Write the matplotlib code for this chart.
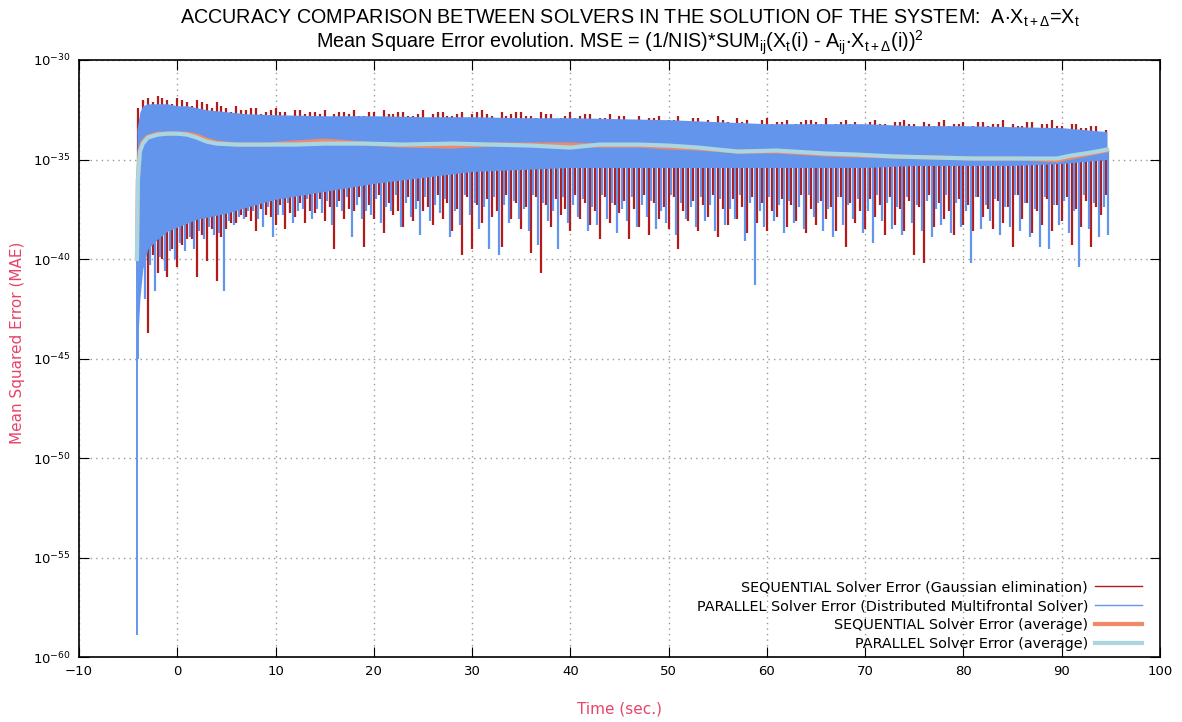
import matplotlib
matplotlib.use("Agg")
import matplotlib.pyplot as plt
import numpy as np

plt.rcParams['mathtext.fontset'] = 'custom'
plt.rcParams['mathtext.rm'] = 'Liberation Sans'
plt.rcParams['mathtext.it'] = 'Liberation Sans:italic'
plt.rcParams['mathtext.default'] = 'regular'

# error values are stored as log10 exponents
# sequential solver (Gaussian elimination): two interleaved sets of spikes
seq_t = np.arange(-4, 95, 1.0)
seq_peak = [-32.4, -31.9, -31.8, -32.0, -31.9, -32.1, -32.0, -32.2, -32.1, -32.4,
            -32.3, -32.5, -32.4, -32.6, -32.4, -32.6, -32.5, -32.7, -32.6, -32.5,
            -32.7, -32.6, -32.5, -32.8, -32.6, -32.5, -32.7, -32.6, -32.8, -32.5,
            -32.7, -32.6, -32.8, -32.6, -32.7, -32.5, -32.8, -32.6, -32.7, -32.6,
            -32.8, -32.6, -32.7, -32.9, -32.6, -32.8, -32.7, -32.9, -32.7, -32.8,
            -33.0, -32.8, -32.9, -32.8, -33.0, -32.8, -33.1, -32.9, -33.0, -32.8,
            -33.1, -32.9, -33.0, -33.2, -32.9, -33.1, -33.0, -33.2, -33.0, -33.1,
            -32.9, -33.2, -33.0, -33.1, -33.3, -33.0, -33.2, -33.1, -33.0, -33.2,
            -33.1, -33.3, -33.0, -33.2, -33.1, -33.3, -33.1, -33.2, -33.0, -33.2,
            -33.3, -33.1, -33.2, -33.0, -33.3, -33.2, -33.4, -33.3, -33.6]
seq_dip = [-41.0, -43.7, -40.7, -40.9, -40.4, -39.0, -40.9, -40.1, -41.1, -38.5,
           -38.2, -37.9, -38.6, -37.8, -38.3, -38.5, -37.9, -38.2, -37.7, -38.1,
           -39.5, -38.0, -37.6, -39.4, -38.0, -38.7, -37.8, -38.4, -38.1, -37.6,
           -38.3, -38.0, -38.6, -39.8, -39.5, -38.2, -37.9, -39.4, -38.0, -38.5,
           -39.7, -40.7, -38.4, -37.8, -38.6, -38.0, -38.3, -39.0, -38.2, -37.7,
           -39.0, -38.4, -38.8, -38.0, -38.5, -39.5, -38.1, -38.6, -37.9, -38.9,
           -38.3, -38.0, -38.7, -38.2, -38.6, -37.9, -38.4, -38.1, -38.7, -38.3,
           -38.0, -38.6, -39.4, -38.2, -38.5, -37.9, -38.8, -38.3, -38.6, -39.8,
           -40.2, -38.4, -38.0, -38.8, -38.3, -38.6, -37.9, -38.5, -38.2, -39.4,
           -38.0, -38.7, -38.3, -38.6, -38.1, -39.3, -38.4, -39.4, -37.8]
seq_t2 = np.arange(-3.5, 95, 1.0)
seq_peak2 = [-32.0, -32.1, -31.9, -32.2, -32.0, -32.3, -32.1, -32.4, -32.3, -32.6,
             -32.5, -32.4, -32.7, -32.5, -32.6, -32.8, -32.5, -32.6, -32.7, -32.9,
             -32.6, -32.7, -32.8, -32.6, -32.9, -32.7, -32.6, -32.8, -32.7, -32.9,
             -32.6, -32.8, -32.7, -32.9, -32.6, -32.7, -32.9, -32.8, -32.6, -32.8,
             -32.9, -32.7, -33.0, -32.8, -32.9, -32.7, -33.0, -32.9, -33.1, -32.8,
             -33.0, -33.1, -32.9, -33.2, -33.0, -33.1, -32.9, -33.2, -33.1, -33.0,
             -33.2, -33.1, -33.3, -33.0, -33.2, -33.1, -33.3, -33.1, -33.0, -33.2,
             -33.3, -33.1, -33.2, -33.4, -33.1, -33.2, -33.3, -33.1, -33.2, -33.4,
             -33.2, -33.1, -33.3, -33.2, -33.4, -33.1, -33.3, -33.2, -33.4, -33.3,
             -33.1, -33.4, -33.2, -33.3, -33.5, -33.2, -33.4, -33.3, -33.5]
seq_dip2 = [-40.2, -39.8, -40.0, -39.5, -39.3, -39.0, -38.8, -38.5, -38.9, -38.2,
            -37.8, -38.1, -37.5, -37.9, -37.3, -37.7, -37.2, -37.6, -37.0, -37.4,
            -37.1, -37.5, -36.9, -37.3, -36.8, -37.2, -37.6, -36.9, -37.1, -37.4,
            -36.8, -37.2, -37.5, -36.9, -37.3, -37.0, -37.6, -36.8, -37.2, -37.4,
            -36.9, -37.3, -37.0, -37.5, -36.8, -37.2, -37.6, -36.9, -37.3, -37.1,
            -37.5, -36.8, -37.2, -37.4, -36.9, -37.6, -37.1, -37.3, -36.8, -37.5,
            -37.0, -37.4, -36.9, -37.2, -37.6, -37.0, -37.3, -36.8, -37.5, -37.1,
            -37.4, -36.9, -37.2, -37.6, -37.0, -37.3, -36.9, -37.5, -37.1, -37.4,
            -36.8, -37.2, -37.6, -37.0, -37.3, -36.9, -37.5, -37.1, -37.4, -36.8,
            -37.2, -37.6, -37.0, -37.3, -36.9, -37.5, -37.1, -37.4, -36.8]

# parallel solver (distributed multifrontal)
par_t = np.arange(-3.25, 95, 1.0)
par_dip = [-42.0, -41.6, -40.6, -40.0, -39.6, -39.5, -39.0, -38.8, -41.6, -38.3,
           -38.0, -37.6, -38.4, -38.9, -37.8, -38.2, -37.5, -38.0, -37.7, -38.3,
           -37.6, -38.9, -38.0, -37.8, -38.2, -37.6, -38.4, -37.9, -38.8, -38.1,
           -37.7, -38.9, -38.3, -37.8, -38.5, -39.5, -39.8, -38.2, -38.0, -38.6,
           -39.3, -38.1, -39.5, -38.2, -37.9, -38.6, -38.3, -38.0, -38.7, -38.1,
           -38.4, -37.9, -38.5, -38.2, -38.8, -38.0, -38.4, -38.1, -38.6, -38.3,
           -38.0, -39.1, -41.3, -38.4, -38.1, -38.7, -38.2, -38.5, -37.9, -38.6,
           -38.9, -38.3, -38.0, -38.7, -39.2, -38.1, -38.5, -38.8, -38.2, -38.6,
           -38.9, -38.3, -38.7, -38.4, -40.2, -38.5, -38.1, -38.8, -38.4, -38.6,
           -38.9, -39.4, -39.5, -38.3, -38.7, -40.4, -38.5, -38.9, -38.8]
par_t2 = np.arange(-3.75, 95, 1.0)
par_dip2 = [-40.8, -40.3, -39.9, -39.6, -39.2, -38.9, -38.6, -38.4, -38.7, -38.1,
            -37.9, -37.6, -38.0, -37.4, -37.8, -37.2, -37.6, -37.0, -37.5, -37.1,
            -37.4, -36.9, -37.3, -37.6, -37.0, -37.4, -36.8, -37.2, -37.5, -36.9,
            -37.3, -37.0, -37.6, -36.8, -37.2, -37.4, -36.9, -37.3, -37.1, -37.5,
            -36.8, -37.2, -37.6, -36.9, -37.3, -37.0, -37.4, -36.8, -37.2, -37.5,
            -36.9, -37.3, -37.1, -37.6, -36.8, -37.2, -37.4, -36.9, -37.3, -37.0,
            -37.5, -36.8, -37.2, -37.6, -36.9, -37.3, -37.1, -37.4, -36.8, -37.2,
            -37.5, -36.9, -37.3, -37.0, -37.6, -36.8, -37.2, -37.4, -36.9, -37.3,
            -37.1, -37.5, -36.8, -37.2, -37.6, -36.9, -37.3, -37.0, -37.4, -36.8,
            -37.2, -37.5, -36.9, -37.3, -37.1, -37.6, -36.8, -37.2, -37.4]
par_start_t = [-4.05, -4.0]
par_start_dip = [-58.9, -45.0]

# dense part of the parallel error band
band_t = [-4.1, -3.8, -3.5, -3, -2, -1, 0, 1, 2, 3, 5, 7, 10, 15, 20,
          25, 30, 35, 40, 45, 50, 55, 60, 65, 70, 75, 80, 85, 90, 94.6]
band_top = [-33.5, -32.6, -32.3, -32.2, -32.2, -32.2, -32.3, -32.3, -32.4, -32.5,
            -32.6, -32.7, -32.75, -32.8, -32.8, -32.85, -32.85, -32.9, -32.9, -32.95,
            -33.0, -33.1, -33.2, -33.2, -33.2, -33.3, -33.3, -33.35, -33.4, -33.6]
band_bot = [-45.0, -42.0, -40.5, -39.5, -39.0, -38.6, -38.4, -38.2, -38.0, -37.9,
            -37.7, -37.4, -37.0, -36.6, -36.2, -35.9, -35.6, -35.5, -35.4, -35.4,
            -35.4, -35.4, -35.4, -35.4, -35.4, -35.3, -35.3, -35.3, -35.2, -35.0]

# running averages
avg_t = [-4.1, -4.0, -3.8, -3.5, -3, -2, -1, 0, 1, 2, 3, 4, 6, 9, 12, 15, 19, 23, 28,
         32, 36, 40, 43, 47, 50, 53, 57, 61, 66, 69, 73, 77, 81, 86, 89.5, 91, 93, 94.6]
seq_avg = [-40.0, -36.0, -34.5, -34.1, -33.85, -33.7, -33.7, -33.7, -33.7, -33.8,
           -34.0, -34.15, -34.25, -34.25, -34.15, -34.05, -34.2, -34.3, -34.35, -34.25,
           -34.25, -34.25, -34.3, -34.3, -34.4, -34.45, -34.6, -34.6, -34.75, -34.8,
           -34.85, -34.9, -34.95, -34.95, -35.05, -34.9, -34.7, -34.55]
par_avg = [-40.0, -36.0, -34.6, -34.2, -33.9, -33.75, -33.7, -33.7, -33.75, -33.9,
           -34.1, -34.2, -34.25, -34.25, -34.25, -34.2, -34.2, -34.25, -34.2, -34.25,
           -34.3, -34.4, -34.25, -34.25, -34.3, -34.4, -34.6, -34.55, -34.7, -34.75,
           -34.85, -34.9, -34.95, -34.95, -34.95, -34.8, -34.65, -34.5]

red = '#b31b1b'
blue = '#6495ed'
salmon = '#f0896a'
lblue = '#a9d6e0'
labcol = '#e8436a'

p = lambda v: 10.0 ** np.asarray(v)

fig = plt.figure(figsize=(11.82, 7.22), dpi=100)
ax = fig.add_axes([0.0668, 0.09, 0.9146, 0.8269])
ax.set_yscale('log')

ax.vlines(seq_t, p(seq_peak), p(seq_dip), colors=red, linewidth=1.6, zorder=2)
ax.vlines(seq_t2, p(seq_peak2), p(seq_dip2), colors=red, linewidth=1.6, zorder=2)
ax.fill_between(band_t, p(band_bot), p(band_top), color=blue, linewidth=0, zorder=3)
ax.vlines(par_t, 10.0 ** -34.5, p(par_dip), colors=blue, linewidth=1.6, zorder=3)
ax.vlines(par_t2, 10.0 ** -34.5, p(par_dip2), colors=blue, linewidth=1.6, zorder=3)
ax.vlines(par_start_t, 10.0 ** -38, p(par_start_dip), colors=blue, linewidth=1.4, zorder=3)
ax.plot(avg_t, p(seq_avg), color=salmon, linewidth=3, zorder=4)
ax.plot(avg_t, p(par_avg), color=lblue, linewidth=3, zorder=5)

# legend proxies
h1, = ax.plot([], [], color=red, linewidth=1)
h2, = ax.plot([], [], color=blue, linewidth=1)
h3, = ax.plot([], [], color=salmon, linewidth=3)
h4, = ax.plot([], [], color=lblue, linewidth=3)
ax.legend([h1, h2, h3, h4],
          ['SEQUENTIAL Solver Error (Gaussian elimination)',
           'PARALLEL Solver Error (Distributed Multifrontal Solver)',
           'SEQUENTIAL Solver Error (average)',
           'PARALLEL Solver Error (average)'],
          loc='lower right', frameon=False, markerfirst=False, fontsize=10.4,
          handlelength=3.2, handletextpad=0.5, labelspacing=0.35,
          bbox_to_anchor=(0.995, -0.012))

ax.set_xlim(-10, 100)
ax.set_ylim(1e-60, 1e-30)
ax.set_xticks(range(-10, 101, 10))
ax.set_yticks(10.0 ** np.arange(-60, -29, 5))
ax.yaxis.set_minor_locator(matplotlib.ticker.NullLocator())
ax.tick_params(direction='in', length=7, top=True, right=True, labelsize=9.5,
               pad=6)
ax.grid(True, color='#999999', linestyle=(0, (1, 3)), linewidth=1)
for s in ax.spines.values():
    s.set_linewidth(1.2)

ax.set_xlabel('Time (sec.)', color=labcol, fontsize=11)
ax.set_ylabel('Mean Squared Error (MAE)', color=labcol, fontsize=11)
ax.xaxis.set_label_coords(0.5, -0.074)
ax.yaxis.set_label_coords(-0.050, 0.526)

fig.text(0.533, 0.975,
         r'ACCURACY COMPARISON BETWEEN SOLVERS IN THE SOLUTION OF THE SYSTEM:  A$\cdot$X$_{t+\Delta}$=X$_t$',
         ha='center', va='center', fontsize=14.2, family='Liberation Sans')
fig.text(0.5245, 0.941,
         r'Mean Square Error evolution. MSE = (1/NIS)*SUM$_{ij}$(X$_t$(i) - A$_{ij}$$\cdot$X$_{t+\Delta}$(i))$^2$',
         ha='center', va='center', fontsize=14.2, family='Liberation Sans')

fig.savefig('out.png', dpi=100)
